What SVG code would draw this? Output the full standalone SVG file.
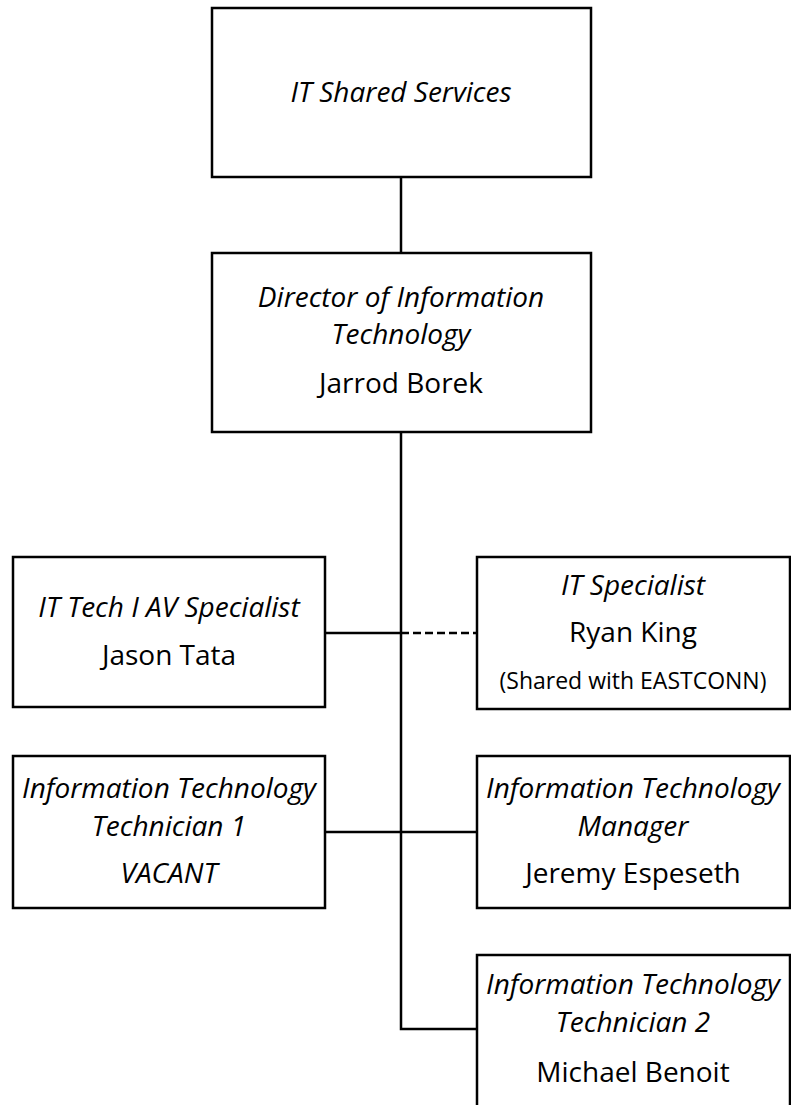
<svg xmlns="http://www.w3.org/2000/svg" width="791" height="1105" viewBox="0 0 791 1105">
<style>
.box{fill:#fff;stroke:#000;stroke-width:2.5}
.ln{fill:none;stroke:#000;stroke-width:2.5}
.dash{stroke-dasharray:8,4}
text{font-family:"Open Sans","Noto Sans",sans-serif;font-size:28px;fill:#000;text-anchor:middle}
.i{font-style:italic}
.s{font-size:23px}
</style>
<rect width="791" height="1105" fill="#fff"/>
<g id="connectors">
<line class="ln" x1="401" y1="177" x2="401" y2="253"/>
<polyline class="ln" points="401,432 401,1029 477,1029"/>
<line class="ln" x1="325" y1="633" x2="401" y2="633"/>
<line class="ln dash" x1="401" y1="633" x2="477" y2="633"/>
<line class="ln" x1="325" y1="832" x2="477" y2="832"/>
</g>
<g id="it-shared-services">
<rect class="box" x="212" y="8" width="379" height="169"/>
<text class="i" x="401" y="102">IT Shared Services</text>
</g>
<g id="director">
<rect class="box" x="212" y="253" width="379" height="179"/>
<text class="i" x="401" y="307">Director of Information</text>
<text class="i" x="401" y="344">Technology</text>
<text x="401" y="393">Jarrod Borek</text>
</g>
<g id="av-specialist">
<rect class="box" x="13" y="557" width="312" height="150"/>
<text class="i" x="169" y="617">IT Tech I AV Specialist</text>
<text x="169" y="665">Jason Tata</text>
</g>
<g id="it-specialist">
<rect class="box" x="477" y="557" width="313" height="152"/>
<text class="i" x="633" y="595">IT Specialist</text>
<text x="633" y="642">Ryan King</text>
<text class="s" x="633" y="689">(Shared with EASTCONN)</text>
</g>
<g id="technician-1">
<rect class="box" x="13" y="756" width="312" height="152"/>
<text class="i" x="169" y="798">Information Technology</text>
<text class="i" x="169" y="836">Technician 1</text>
<text class="i" x="169" y="883">VACANT</text>
</g>
<g id="manager">
<rect class="box" x="477" y="756" width="313" height="152"/>
<text class="i" x="633" y="798">Information Technology</text>
<text class="i" x="633" y="836">Manager</text>
<text x="633" y="883">Jeremy Espeseth</text>
</g>
<g id="technician-2">
<rect class="box" x="477" y="955" width="313" height="170"/>
<text class="i" x="633" y="994">Information Technology</text>
<text class="i" x="633" y="1032">Technician 2</text>
<text x="633" y="1082">Michael Benoit</text>
</g>
</svg>
